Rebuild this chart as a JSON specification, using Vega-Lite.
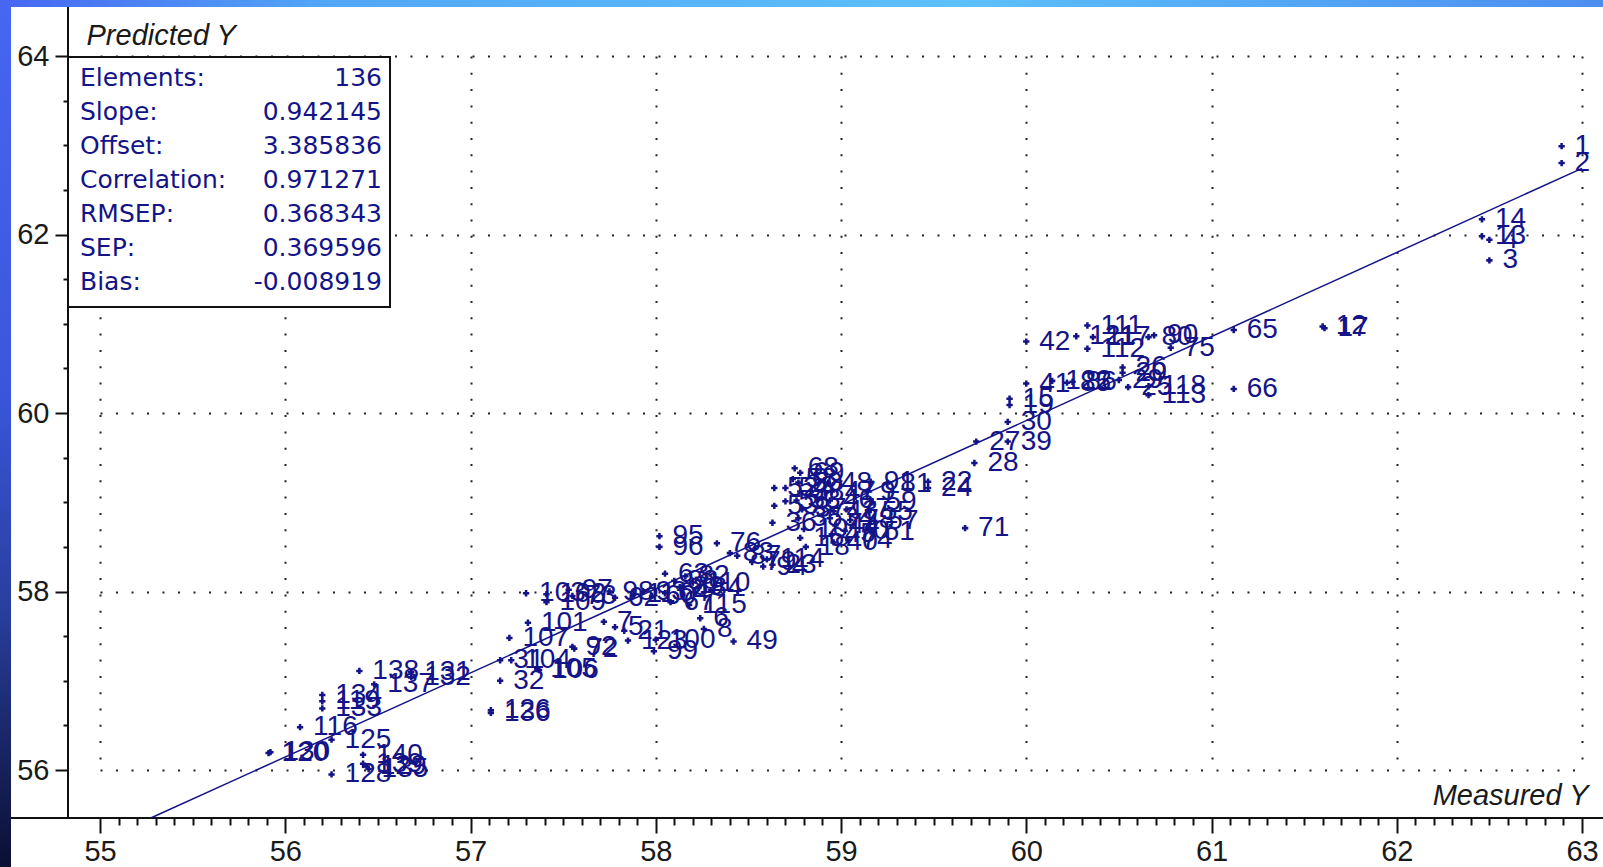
{
  "$schema": "https://vega.github.io/schema/vega-lite/v6.json",
  "width": 1482,
  "height": 714,
  "autosize": {"type": "none"},
  "padding": {"left": 100, "top": 56, "right": 21, "bottom": 97},
  "background": "white",
  "config": {"view": {"stroke": null}},
  "datasets": {
    "points": [
      {"id": "1", "meas": 62.89, "pred": 62.99},
      {"id": "2", "meas": 62.89, "pred": 62.80},
      {"id": "14", "meas": 62.46, "pred": 62.17},
      {"id": "13", "meas": 62.46, "pred": 61.98},
      {"id": "4", "meas": 62.50, "pred": 61.94},
      {"id": "3", "meas": 62.50, "pred": 61.71},
      {"id": "12", "meas": 61.60, "pred": 60.97},
      {"id": "17", "meas": 61.61, "pred": 60.95},
      {"id": "65", "meas": 61.12, "pred": 60.93},
      {"id": "66", "meas": 61.12, "pred": 60.27},
      {"id": "42", "meas": 60.00, "pred": 60.80},
      {"id": "121", "meas": 60.27, "pred": 60.86},
      {"id": "111", "meas": 60.33, "pred": 60.98},
      {"id": "117", "meas": 60.36, "pred": 60.85},
      {"id": "112", "meas": 60.33, "pred": 60.72},
      {"id": "26", "meas": 60.52, "pred": 60.51},
      {"id": "80", "meas": 60.66, "pred": 60.85},
      {"id": "90", "meas": 60.69, "pred": 60.87},
      {"id": "75", "meas": 60.78, "pred": 60.73},
      {"id": "41", "meas": 60.00, "pred": 60.33},
      {"id": "122", "meas": 60.14, "pred": 60.36},
      {"id": "85", "meas": 60.22, "pred": 60.34},
      {"id": "86", "meas": 60.25, "pred": 60.35},
      {"id": "29", "meas": 60.50, "pred": 60.37},
      {"id": "20", "meas": 60.52, "pred": 60.45},
      {"id": "25", "meas": 60.55, "pred": 60.29},
      {"id": "118", "meas": 60.66, "pred": 60.30},
      {"id": "113", "meas": 60.66, "pred": 60.20},
      {"id": "15", "meas": 59.91, "pred": 60.16},
      {"id": "19", "meas": 59.91, "pred": 60.09},
      {"id": "30", "meas": 59.90, "pred": 59.90},
      {"id": "39", "meas": 59.90, "pred": 59.68},
      {"id": "27", "meas": 59.73, "pred": 59.68},
      {"id": "28", "meas": 59.72, "pred": 59.44},
      {"id": "22", "meas": 59.47, "pred": 59.23},
      {"id": "24", "meas": 59.47, "pred": 59.16},
      {"id": "71", "meas": 59.67, "pred": 58.71},
      {"id": "91", "meas": 59.16, "pred": 59.23},
      {"id": "9", "meas": 59.14, "pred": 59.12},
      {"id": "59", "meas": 59.17, "pred": 59.00},
      {"id": "55", "meas": 59.15, "pred": 58.89},
      {"id": "57", "meas": 59.18, "pred": 58.79},
      {"id": "51", "meas": 59.16, "pred": 58.67},
      {"id": "81", "meas": 59.25, "pred": 59.21},
      {"id": "68", "meas": 58.75, "pred": 59.38},
      {"id": "69", "meas": 58.78, "pred": 59.33},
      {"id": "50", "meas": 58.77, "pred": 59.22},
      {"id": "38", "meas": 58.78, "pred": 59.12},
      {"id": "33", "meas": 58.76, "pred": 59.02},
      {"id": "37", "meas": 58.79, "pred": 58.92},
      {"id": "35", "meas": 58.77, "pred": 58.82},
      {"id": "10", "meas": 58.80, "pred": 58.70},
      {"id": "16", "meas": 58.78, "pred": 58.60},
      {"id": "18", "meas": 58.81, "pred": 58.50},
      {"id": "48", "meas": 58.93, "pred": 59.22},
      {"id": "47", "meas": 58.95, "pred": 59.12},
      {"id": "46", "meas": 58.94, "pred": 59.02},
      {"id": "43", "meas": 58.96, "pred": 58.90},
      {"id": "34", "meas": 58.94, "pred": 58.82},
      {"id": "44", "meas": 58.97, "pred": 58.74},
      {"id": "45", "meas": 58.95, "pred": 58.64},
      {"id": "40", "meas": 58.96, "pred": 58.55},
      {"id": "77", "meas": 59.03, "pred": 58.92},
      {"id": "78", "meas": 59.05, "pred": 58.80},
      {"id": "70", "meas": 59.02, "pred": 58.68},
      {"id": "74", "meas": 59.04, "pred": 58.58},
      {"id": "52", "meas": 58.64, "pred": 59.16},
      {"id": "53", "meas": 58.64, "pred": 58.96},
      {"id": "36", "meas": 58.63, "pred": 58.77},
      {"id": "54", "meas": 58.70, "pred": 59.16},
      {"id": "56", "meas": 58.70, "pred": 59.01},
      {"id": "58", "meas": 58.74, "pred": 59.26},
      {"id": "76", "meas": 58.33, "pred": 58.54},
      {"id": "83", "meas": 58.40, "pred": 58.43},
      {"id": "87", "meas": 58.44, "pred": 58.40},
      {"id": "79", "meas": 58.52, "pred": 58.33},
      {"id": "114", "meas": 58.60, "pred": 58.36},
      {"id": "23", "meas": 58.63, "pred": 58.30},
      {"id": "94", "meas": 58.58, "pred": 58.28},
      {"id": "95", "meas": 58.02, "pred": 58.62},
      {"id": "96", "meas": 58.02, "pred": 58.50},
      {"id": "84", "meas": 58.23, "pred": 58.04},
      {"id": "82", "meas": 58.16, "pred": 58.17},
      {"id": "88", "meas": 58.10, "pred": 58.12},
      {"id": "89", "meas": 58.13, "pred": 58.05},
      {"id": "110", "meas": 58.20, "pred": 58.10},
      {"id": "63", "meas": 58.05, "pred": 58.20},
      {"id": "64", "meas": 58.05, "pred": 57.98},
      {"id": "60", "meas": 57.98, "pred": 57.95},
      {"id": "93", "meas": 57.93, "pred": 58.00},
      {"id": "67", "meas": 58.08, "pred": 57.88},
      {"id": "115", "meas": 58.18, "pred": 57.85},
      {"id": "6", "meas": 58.24, "pred": 57.70},
      {"id": "8", "meas": 58.26, "pred": 57.58},
      {"id": "49", "meas": 58.42, "pred": 57.44},
      {"id": "100", "meas": 58.00, "pred": 57.46},
      {"id": "99", "meas": 57.99, "pred": 57.33},
      {"id": "97", "meas": 57.53, "pred": 58.02},
      {"id": "73", "meas": 57.55, "pred": 57.95},
      {"id": "98", "meas": 57.75, "pred": 58.00},
      {"id": "62", "meas": 57.78, "pred": 57.93},
      {"id": "11", "meas": 57.88, "pred": 57.97},
      {"id": "7", "meas": 57.72, "pred": 57.66},
      {"id": "5", "meas": 57.78, "pred": 57.60},
      {"id": "21", "meas": 57.83, "pred": 57.56},
      {"id": "123", "meas": 57.85, "pred": 57.45},
      {"id": "103", "meas": 57.30, "pred": 57.98},
      {"id": "102", "meas": 57.41, "pred": 57.97},
      {"id": "109", "meas": 57.41, "pred": 57.88},
      {"id": "101", "meas": 57.31, "pred": 57.65},
      {"id": "107", "meas": 57.21, "pred": 57.48},
      {"id": "104", "meas": 57.22, "pred": 57.23},
      {"id": "31", "meas": 57.16, "pred": 57.23},
      {"id": "105", "meas": 57.36, "pred": 57.13},
      {"id": "106", "meas": 57.37, "pred": 57.12},
      {"id": "32", "meas": 57.16, "pred": 57.00},
      {"id": "136", "meas": 57.11, "pred": 56.64},
      {"id": "126", "meas": 57.11, "pred": 56.67},
      {"id": "92", "meas": 57.55, "pred": 57.38},
      {"id": "72", "meas": 57.56, "pred": 57.36},
      {"id": "120", "meas": 55.91, "pred": 56.19},
      {"id": "130", "meas": 55.92, "pred": 56.20},
      {"id": "116", "meas": 56.08, "pred": 56.48},
      {"id": "134", "meas": 56.20, "pred": 56.84},
      {"id": "119", "meas": 56.20, "pred": 56.77},
      {"id": "133", "meas": 56.20, "pred": 56.69},
      {"id": "138", "meas": 56.40, "pred": 57.11},
      {"id": "137", "meas": 56.48, "pred": 56.96},
      {"id": "131", "meas": 56.68, "pred": 57.10},
      {"id": "132", "meas": 56.68, "pred": 57.04},
      {"id": "125", "meas": 56.25, "pred": 56.34},
      {"id": "140", "meas": 56.42, "pred": 56.17},
      {"id": "139", "meas": 56.42, "pred": 56.07},
      {"id": "135", "meas": 56.45, "pred": 56.01},
      {"id": "129", "meas": 56.44, "pred": 56.04},
      {"id": "128", "meas": 56.25, "pred": 55.95}
    ],
    "fit": [
      {"meas": 55.274, "pred": 55.462},
      {"meas": 63.0, "pred": 62.741}
    ]
  },
  "layer": [
    {
      "data": {"values": [{}]},
      "mark": {"type": "rect", "clip": false, "fill": {"gradient": "linear", "x1": 0, "y1": 0, "x2": 0, "y2": 1, "stops": [{"offset": 0, "color": "#4766f2"}, {"offset": 0.45, "color": "#3a56dc"}, {"offset": 0.7, "color": "#283f9e"}, {"offset": 1, "color": "#0b0f33"}]}},
      "encoding": {
        "x": {"datum": 54.4602, "type": "quantitative", "scale": {"domain": [55, 63], "nice": false, "zero": false}},
        "x2": {"datum": 54.5196},
        "y": {"datum": 64.6275, "type": "quantitative", "scale": {"domain": [56, 64], "nice": false, "zero": false}},
        "y2": {"datum": 54.913}
      }
    },
    {
      "data": {"values": [{}]},
      "mark": {"type": "rect", "clip": false, "fill": {"gradient": "linear", "x1": 0, "y1": 0, "x2": 1, "y2": 0, "stops": [{"offset": 0, "color": "#4766f2"}, {"offset": 0.2, "color": "#52a6f6"}, {"offset": 0.6, "color": "#5cc0fa"}, {"offset": 1, "color": "#4c8ef0"}]}},
      "encoding": {
        "x": {"datum": 54.4602, "type": "quantitative"},
        "x2": {"datum": 63.1134},
        "y": {"datum": 64.6275, "type": "quantitative"},
        "y2": {"datum": 64.549}
      }
    },
    {
      "data": {"values": [{}]},
      "mark": {"type": "rule", "clip": false, "color": "#111111", "strokeWidth": 2},
      "encoding": {
        "x": {"datum": 54.8273, "type": "quantitative"},
        "y": {"datum": 64.549, "type": "quantitative"},
        "y2": {"datum": 55.462}
      }
    },
    {
      "data": {"values": [{}]},
      "mark": {"type": "rule", "clip": false, "color": "#111111", "strokeWidth": 2},
      "encoding": {
        "x": {"datum": 54.5196, "type": "quantitative"},
        "x2": {"datum": 63.1134},
        "y": {"datum": 55.462, "type": "quantitative"}
      }
    },
    {
      "data": {"values": [{}]},
      "mark": {"type": "rect", "clip": false, "fill": "white", "stroke": "#111111", "strokeWidth": 2},
      "encoding": {
        "x": {"datum": 54.8273, "type": "quantitative"},
        "x2": {"datum": 56.5655},
        "y": {"datum": 63.989, "type": "quantitative"},
        "y2": {"datum": 61.188}
      }
    },
    {
      "data": {"name": "fit"},
      "mark": {"type": "line", "clip": false, "color": "#141488", "strokeWidth": 1.5},
      "encoding": {
        "x": {"field": "meas", "type": "quantitative"},
        "y": {"field": "pred", "type": "quantitative"}
      }
    },
    {
      "data": {"name": "points"},
      "mark": {"type": "point", "shape": "cross", "filled": true, "size": 40, "color": "#141488", "opacity": 1, "clip": false},
      "encoding": {
        "x": {
          "field": "meas", "type": "quantitative",
          "axis": {
            "orient": "bottom", "offset": 48, "domain": false, "tickCount": 80,
            "tickSize": {"condition": {"test": "datum.value % 1 === 0", "value": 15}, "value": 7},
            "tickWidth": 2, "tickColor": "#111111",
            "grid": true, "gridColor": "#222222", "gridWidth": 2, "gridDash": [2, 14.3],
            "gridOpacity": {"condition": {"test": "datum.value % 1 === 0", "value": 1}, "value": 0},
            "labelExpr": "datum.value % 1 === 0 ? format(datum.value, 'd') : ''",
            "labelFont": "Liberation Sans", "labelFontSize": 29, "labelColor": "#1a1a1a",
            "labelPadding": 4, "labelFlush": false, "labelOverlap": false, "labelBound": false,
            "title": "Measured Y", "titleFont": "Liberation Sans", "titleFontSize": 29,
            "titleFontStyle": "italic", "titleFontWeight": "normal", "titleColor": "#1a1a1a",
            "titleAlign": "right", "titleBaseline": "alphabetic", "titleX": 1488, "titleY": -14
          }
        },
        "y": {
          "field": "pred", "type": "quantitative",
          "axis": {
            "orient": "left", "offset": 32, "domain": false, "tickCount": 16,
            "tickSize": {"condition": {"test": "datum.value % 2 === 0", "value": 13}, "value": 5},
            "tickWidth": 2, "tickColor": "#111111",
            "grid": true, "gridColor": "#222222", "gridWidth": 2, "gridDash": [2, 13.5],
            "gridOpacity": {"condition": {"test": "datum.value % 2 === 0", "value": 1}, "value": 0},
            "labelExpr": "datum.value % 2 === 0 ? format(datum.value, 'd') : ''",
            "labelFont": "Liberation Sans", "labelFontSize": 29, "labelColor": "#1a1a1a",
            "labelPadding": 6, "labelOverlap": false, "labelBound": false,
            "title": "Predicted Y", "titleFont": "Liberation Sans", "titleFontSize": 29,
            "titleFontStyle": "italic", "titleFontWeight": "normal", "titleColor": "#1a1a1a",
            "titleAngle": 0, "titleAlign": "left", "titleBaseline": "alphabetic", "titleX": 18, "titleY": -12
          }
        }
      }
    },
    {
      "data": {"name": "points"},
      "mark": {"type": "text", "align": "left", "baseline": "middle", "dx": 13, "font": "Liberation Sans", "fontSize": 28, "color": "#141488", "clip": false},
      "encoding": {
        "x": {"field": "meas", "type": "quantitative"},
        "y": {"field": "pred", "type": "quantitative"},
        "text": {"field": "id"}
      }
    },
    {
      "data": {"values": [{}]},
      "mark": {"type": "text", "align": "left", "baseline": "alphabetic", "font": "DejaVu Sans", "fontSize": 25, "color": "#141488", "lineHeight": 34, "clip": false,
        "text": ["Elements:", "Slope:", "Offset:", "Correlation:", "RMSEP:", "SEP:", "Bias:"]},
      "encoding": {
        "x": {"datum": 54.892, "type": "quantitative"},
        "y": {"datum": 63.664, "type": "quantitative"}
      }
    },
    {
      "data": {"values": [{}]},
      "mark": {"type": "text", "align": "right", "baseline": "alphabetic", "font": "DejaVu Sans", "fontSize": 25, "color": "#141488", "lineHeight": 34, "clip": false,
        "text": ["136", "0.942145", "3.385836", "0.971271", "0.368343", "0.369596", "-0.008919"]},
      "encoding": {
        "x": {"datum": 56.5223, "type": "quantitative"},
        "y": {"datum": 63.664, "type": "quantitative"}
      }
    }
  ]
}
